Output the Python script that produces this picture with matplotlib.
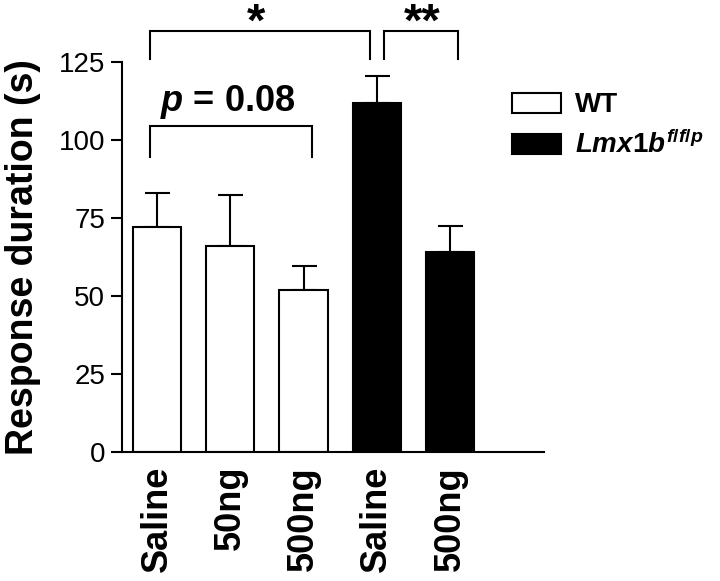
import matplotlib
matplotlib.use("Agg")
import matplotlib.pyplot as plt
from matplotlib.patches import Patch

plt.rcParams['font.family'] = ['Liberation Sans', 'DejaVu Sans']
plt.rcParams['mathtext.fontset'] = 'custom'
plt.rcParams['mathtext.it'] = 'Liberation Sans:italic:bold'
plt.rcParams['mathtext.rm'] = 'Liberation Sans:bold'

# data
labels = ['Saline', '50ng', '500ng', 'Saline', '500ng']
means = [72, 66, 52, 112, 64]
sems = [11, 16.5, 7.5, 8.5, 8.5]
colors = ['white', 'white', 'white', 'black', 'black']
yticks = [0, 25, 50, 75, 100, 125]

fig = plt.figure(figsize=(7.2, 5.81), dpi=100)
ax = fig.add_axes([0.1694, 0.222, 0.5861, 0.671])

x = list(range(len(means)))
ax.bar(x, means, width=0.66, color=colors, edgecolor='black', linewidth=1.5, zorder=2)
ax.errorbar(x, means, yerr=[[0] * len(sems), sems], fmt='none', ecolor='black',
            elinewidth=1.5, capsize=9, capthick=1.5, zorder=1)

ax.set_xlim(-0.478, 5.28)
ax.set_ylim(0, 125)
ax.set_yticks(yticks)
ax.set_xticks(x)
ax.set_xticklabels(labels, rotation=90, fontsize=26, fontweight='bold')
ax.tick_params(axis='y', labelsize=20, length=8, width=1.5, pad=4)
ax.tick_params(axis='x', length=0, pad=10)
ax.spines['top'].set_visible(False)
ax.spines['right'].set_visible(False)
ax.spines['left'].set_linewidth(1.5)
ax.spines['bottom'].set_linewidth(1.5)
ax.set_ylabel('Response duration (s)', fontsize=27, fontweight='bold', labelpad=13)


def bracket(x0, x1, y, drop):
    ax.plot([x0, x0, x1, x1], [y - drop, y, y, y - drop], color='black',
            lw=1.5, clip_on=False, solid_joinstyle='miter')


bracket(-0.1, 2.9, 135, 9)
bracket(3.1, 4.11, 135, 9)
bracket(-0.1, 2.12, 104.5, 10)
ax.text(1.35, 133.5, '*', ha='center', va='baseline', fontsize=34, fontweight='bold')
ax.text(3.62, 133.5, '**', ha='center', va='baseline', fontsize=34, fontweight='bold')
ax.text(0.96, 106, r'$p$ = 0.08', ha='center', va='bottom', fontsize=26, fontweight='bold')

handles = [Patch(facecolor='white', edgecolor='black', linewidth=1.5),
           Patch(facecolor='black', edgecolor='black', linewidth=1.5)]
fig.legend(handles, ['WT', r'$Lmx1b^{f/f/p}$'], loc='upper left',
           bbox_to_anchor=(0.677, 0.884), frameon=False, prop={'size': 20, 'weight': 'bold'},
           handlelength=1.75, handleheight=0.75, handletextpad=0.5, labelspacing=0.45)

fig.savefig('out.png', dpi=100)
